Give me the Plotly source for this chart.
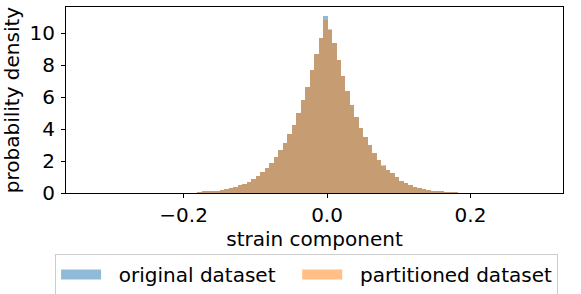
import plotly.graph_objects as go

# Histogram (density) values, left to right
bin_start = -0.1812
bin_width = 0.00627

original_density = [
    0.06, 0.08, 0.10, 0.125, 0.15, 0.19, 0.25, 0.31, 0.375, 0.47,
    0.57, 0.71, 0.85, 1.04, 1.31, 1.56, 1.875, 2.23, 2.69, 3.125,
    3.69, 4.27, 5.0, 5.83, 6.63, 7.67, 8.69, 9.73,
    11.08,
    10.20, 9.37, 8.31, 7.33, 6.41, 5.48, 4.75, 4.06, 3.50, 2.98,
    2.48, 2.08, 1.71, 1.46, 1.25, 0.98, 0.78, 0.63, 0.50, 0.40,
    0.31, 0.25, 0.19, 0.15, 0.11, 0.08, 0.06, 0.04, 0.03,
]
partitioned_density = [
    0.06, 0.08, 0.10, 0.12, 0.15, 0.19, 0.25, 0.31, 0.375, 0.47,
    0.57, 0.71, 0.85, 1.04, 1.31, 1.56, 1.875, 2.23, 2.69, 3.125,
    3.69, 4.27, 5.0, 5.83, 6.63, 7.67, 8.69, 9.73,
    10.83,
    10.29, 9.37, 8.31, 7.33, 6.41, 5.48, 4.75, 4.06, 3.50, 2.98,
    2.48, 2.08, 1.74, 1.46, 1.25, 0.98, 0.77, 0.62, 0.50, 0.40,
    0.31, 0.25, 0.19, 0.15, 0.11, 0.08, 0.06, 0.04, 0.03,
]
series_names = ["original dataset", "partitioned dataset"]
x_ticks = [-0.2, 0.0, 0.2]
y_ticks = [0, 2, 4, 6, 8, 10]

bin_left = [bin_start + i * bin_width for i in range(len(original_density))]

BLUE = "#1f77b4"
ORANGE = "#ff7f0e"
FONT = "DejaVu Sans"
FS = 20
NB = "\u00a0"

fig = go.Figure()
for name, vals, col in [(series_names[0], original_density, BLUE),
                        (series_names[1], partitioned_density, ORANGE)]:
    fig.add_trace(go.Bar(
        x=bin_left, y=vals, width=bin_width, offset=0,
        marker=dict(color=col, line=dict(width=0)),
        opacity=0.5, showlegend=False, name=name,
    ))

# legend swatches (wide rectangles like matplotlib patches)
legend_labels = [NB * 2 + series_names[0] + NB * 2 + "\u2009", NB * 2 + series_names[1]]
for label, col in [(legend_labels[0], "#8fbbd9"), (legend_labels[1], "#ffbf86")]:
    fig.add_trace(go.Scatter(
        x=[None], y=[None], mode="lines", name=label,
        line=dict(color=col, width=12), showlegend=True,
    ))

fig.update_layout(
    width=581, height=294,
    margin=dict(l=66, r=18, t=7, b=101, autoexpand=False),
    paper_bgcolor="white", plot_bgcolor="white",
    barmode="overlay", bargap=0,
    font=dict(family=FONT, size=FS, color="black"),
    legend=dict(
        orientation="h", x=-0.022, xanchor="left", y=-0.328, yanchor="top",
        bordercolor="#cccccc", borderwidth=1, bgcolor="white",
        font=dict(size=FS, family=FONT), itemwidth=40,
        tracegroupgap=0,
    ),
)
fig.update_xaxes(
    range=[-0.364, 0.329], tickvals=x_ticks, tickformat=".1f",
    showgrid=False, zeroline=False, automargin=False,
    showline=True, linecolor="black", linewidth=1, mirror=True,
    ticks="outside", ticklen=4, tickcolor="black", ticklabelstandoff=0,
    title=dict(text="strain component", standoff=0, font=dict(size=FS)),
)
fig.update_yaxes(
    range=[0, 11.64], tickvals=y_ticks,
    showgrid=False, zeroline=False, automargin=False,
    showline=True, linecolor="black", linewidth=1, mirror=True,
    ticks="outside", ticklen=4, tickcolor="black", ticklabelstandoff=2,
    title=dict(text="probability density", standoff=6, font=dict(size=FS)),
)

fig.write_html(
    "out.html",
    config={"displayModeBar": False},
    post_script="document.body.style.margin='0px';",
)
